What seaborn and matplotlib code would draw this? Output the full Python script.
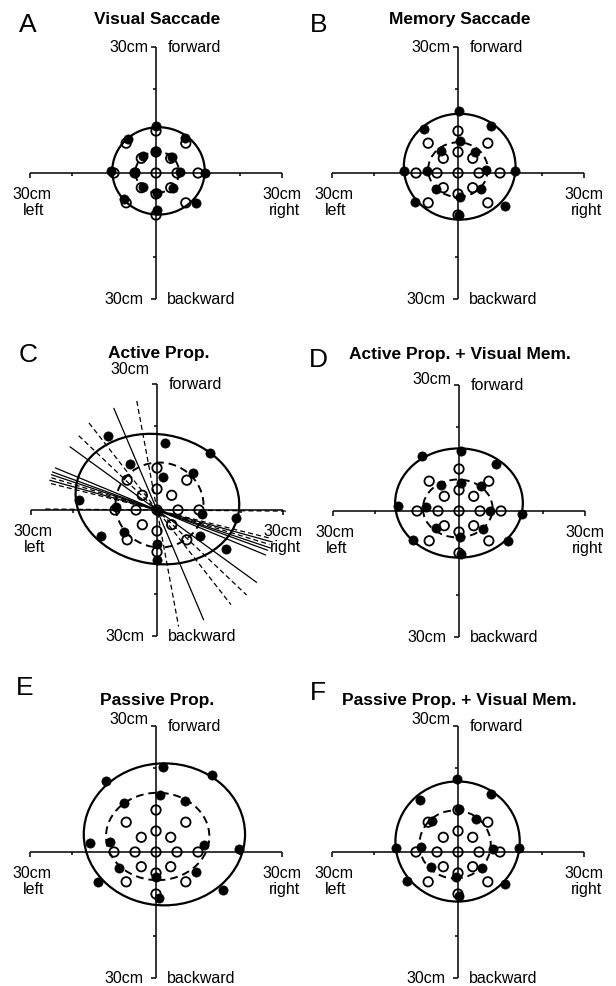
import numpy as np
import matplotlib
matplotlib.use('Agg')
import matplotlib.pyplot as plt
from matplotlib.patches import Ellipse
import seaborn as sns

sns.set_style('white')
plt.rcParams['font.family'] = ['Liberation Sans', 'DejaVu Sans']
plt.rcParams['text.color'] = 'black'

letters = ['A', 'B', 'C', 'D', 'E', 'F']
titles = ['Visual Saccade', 'Memory Saccade', 'Active Prop.',
          'Active Prop. + Visual Mem.', 'Passive Prop.',
          'Passive Prop. + Visual Mem.']

# target positions (cm), same in every panel
target_x = [0, 5, 3.5, 0, -3.5, -5, -3.5, 0, 3.5, 10, 7.1, 0, -7.1, -10, -7.1, 0, 7.1]
target_y = [0, 0, 3.5, 5, 3.5, 0, -3.5, -5, -3.5, 0, 7.1, 10, 7.1, 0, -7.1, -10, -7.1]

# end points for the 10 cm targets (cm)
a_outer_x = [0, -6.7, 6.9, -10.6, 11.7, -7.5, 9.5, 0.2]
a_outer_y = [11.3, 8.0, 8.4, 0.5, 0.1, -6.3, -7.2, -8.8]
b_outer_x = [0.2, -8.2, 7.8, -12.8, 13.5, -10.3, 11.3, 0.2]
b_outer_y = [14.8, 10.5, 11.3, 0.4, 0.4, -7.0, -7.9, -10.0]
c_outer_x = [-11.7, 1.8, 12.5, -18.5, 18.9, -13.3, 16.4, 0.0]
c_outer_y = [17.7, 16.0, 13.6, 2.5, -2.0, -6.3, -9.4, -11.8]
d_outer_x = [0.4, -8.8, 8.7, -14.5, 15.0, -10.9, 11.7, 0.4]
d_outer_y = [14.3, 13.1, 11.3, 1.2, -0.6, -6.9, -7.1, -10.2]
e_outer_x = [1.7, 13.3, -11.9, -15.6, 19.8, -13.7, 16.0, 0.6]
e_outer_y = [20.2, 18.3, 16.9, 2.2, 0.6, -7.1, -9.1, -11.0]
f_outer_x = [-0.2, -9.1, 7.8, -14.8, 14.5, -12.1, 11.3, 0.2]
f_outer_y = [17.3, 12.3, 13.7, 1.0, 1.0, -7.0, -7.5, -10.5]

# end points for the 5 cm targets (cm)
a_inner_x = [0, -3.2, 3.7, -5.0, 5.6, -3.2, 4.0, 0.2]
a_inner_y = [5.2, 4.0, 3.9, 0.3, 0.3, -3.3, -3.5, -4.8]
b_inner_x = [0.4, -4.0, 4.0, -7.4, 6.7, -5.3, 5.4, 0.4]
b_inner_y = [7.7, 5.2, 4.9, 0.4, 0.6, -3.8, -3.8, -5.6]
c_inner_x = [-6.5, 1.4, 8.5, -9.7, 10.7, -7.8, 10.3, 0.0, 0.2]
c_inner_y = [11.0, 7.8, 8.7, 0.6, -1.0, -5.3, -6.1, -8.1, -0.2]
d_inner_x = [0.4, -4.2, 5.3, -7.9, 7.3, -5.4, 5.6, 0.2]
d_inner_y = [6.7, 6.1, 6.0, 1.0, 0.0, -4.0, -4.2, -6.1]
e_inner_x = [1.0, -7.6, 6.9, -11.0, 11.5, -8.8, 9.5, -0.1]
e_inner_y = [13.5, 11.7, 12.1, 2.4, 1.6, -3.8, -4.8, -6.0]
f_inner_x = [0.2, -6.2, 4.4, -8.7, 8.3, -6.5, 5.6, -0.4]
f_inner_y = [10.2, 7.4, 7.9, 1.2, 0.8, -3.6, -3.8, -6.0]

# fitted ellipses: centre x, centre y, semi-axes, tilt (deg)
outer_cx = [0.6, 0.4, 0.1, 0.0, 2.0, -0.1]
outer_cy = [0.5, 1.5, 2.6, 1.9, 4.2, 2.5]
outer_a = [11.0, 13.3, 19.6, 15.2, 19.2, 14.8]
outer_b = [10.4, 12.6, 15.4, 13.0, 16.9, 14.3]
outer_tilt = [0, 0, -10, 0, 0, 0]
inner_cx = [0.3, 0.0, 0.6, -0.3, 0.4, -0.7]
inner_cy = [0.2, 0.8, 1.2, 0.6, 3.7, 1.8]
inner_a = [5.2, 7.1, 10.5, 8.3, 12.3, 8.5]
inner_b = [4.9, 6.5, 10.1, 6.9, 10.4, 8.1]
inner_tilt = [0, 0, -10, 0, 0, 0]

# panel C: axis lines through the origin (angle deg, length up-left, length down-right)
c_line_angle = [100.5, 113, 128, 136.5, 144, 157.5, 160, 161.5, 163, 164.5, 166, 179.5]
c_line_up = [26.4, 26.3, 26.3, 25.7, 25.6, 26.2, 26.5, 26.5, 26.3, 26.5, 26.0, 26.6]
c_line_down = [28.2, 28.4, 28.6, 29.4, 29.3, 28.0, 28.0, 28.5, 28.0, 28.5, 28.0, 31.0]
c_line_dashed = [True, False, True, True, False, False, False, False, True, False, True, True]

outer_x = [a_outer_x, b_outer_x, c_outer_x, d_outer_x, e_outer_x, f_outer_x]
outer_y = [a_outer_y, b_outer_y, c_outer_y, d_outer_y, e_outer_y, f_outer_y]
inner_x = [a_inner_x, b_inner_x, c_inner_x, d_inner_x, e_inner_x, f_inner_x]
inner_y = [a_inner_y, b_inner_y, c_inner_y, d_inner_y, e_inner_y, f_inner_y]

# layout: panel origin in pixels, label offsets
W, H = 616, 987
s = 4.2  # px per cm
panel_cx = [156, 458, 157, 459, 156, 458]
panel_cy = [174, 174, 511, 512, 853, 853]
top_lab_dy = [0, 0, 3.8, 1.5, 1.8, 1.8]
title_y = [36.7, 36.7, 37.6, 37.4, 36.4, 36.4]
letter_x = [-30.5, -33.3, -30.6, -33.6, -31.2, -33.3]
letter_y = [35.4, 35.5, 37.1, 36.1, 39.3, 38.1]

fig = plt.figure(figsize=(6.16, 9.87), dpi=100)
fs = 11.5
dash = (0, (4, 2.5))

for i in range(6):
    cx, cy = panel_cx[i], panel_cy[i]
    ax = fig.add_axes([(cx - 36 * s) / W, 1 - (cy + 34 * s) / H, 72 * s / W, 74 * s / H])
    ax.set_xlim(-36, 36)
    ax.set_ylim(-34, 40)
    ax.axis('off')

    # cross axes
    k = dict(color='black', lw=1.1, solid_capstyle='butt', zorder=2)
    ax.plot([-30, 30], [0, 0], **k)
    ax.plot([0, 0], [-30, 30], **k)
    ax.plot([-30, -30], [0, -1.3], **k)
    ax.plot([30, 30], [0, -1.3], **k)
    ax.plot([-1.3, 0], [30, 30], **k)
    ax.plot([-1.3, 0], [-30, -30], **k)
    for t in (-20, 20):
        ax.plot([t, t], [0, -0.7], **k)
        ax.plot([-0.7, 0], [t, t], **k)

    ax.text(-1.8, 30 + top_lab_dy[i], '30cm', ha='right', va='center', fontsize=fs)
    ax.text(2.7, 30, 'forward', ha='left', va='center', fontsize=fs)
    ax.text(-2.9, -30, '30cm', ha='right', va='center', fontsize=fs)
    ax.text(2.7, -30, 'backward', ha='left', va='center', fontsize=fs)
    ax.text(-29.5, -4.8, '30cm', ha='center', va='center', fontsize=fs)
    ax.text(-29.2, -8.8, 'left', ha='center', va='center', fontsize=fs)
    ax.text(30.0, -4.8, '30cm', ha='center', va='center', fontsize=fs)
    ax.text(30.5, -8.8, 'right', ha='center', va='center', fontsize=fs)

    ax.text(letter_x[i], letter_y[i], letters[i], ha='center', va='center', fontsize=19)
    ax.text(0.3, title_y[i], titles[i], ha='center', va='center', fontsize=12.5,
            fontweight='bold')

    # panel C principal axes
    if i == 2:
        for ang, up, dn, dsh in zip(c_line_angle, c_line_up, c_line_down, c_line_dashed):
            r = np.deg2rad(ang)
            ax.plot([up * np.cos(r), -dn * np.cos(r)], [up * np.sin(r), -dn * np.sin(r)],
                    color='black', lw=0.9, linestyle=dash if dsh else '-', zorder=3)

    ax.add_patch(Ellipse((outer_cx[i], outer_cy[i]), 2 * outer_a[i], 2 * outer_b[i],
                         angle=outer_tilt[i], fill=False, ec='black', lw=1.6, zorder=4))
    ax.add_patch(Ellipse((inner_cx[i], inner_cy[i]), 2 * inner_a[i], 2 * inner_b[i],
                         angle=inner_tilt[i], fill=False, ec='black', lw=1.4,
                         linestyle=dash, zorder=4))

    sns.scatterplot(x=target_x, y=target_y, ax=ax, s=46, marker='o',
                    facecolor='none', edgecolor='black', linewidth=1.3, zorder=5)
    sns.scatterplot(x=outer_x[i] + inner_x[i], y=outer_y[i] + inner_y[i], ax=ax, s=44,
                    marker='o', color='black', edgecolor='black', linewidth=0.5, zorder=6)

fig.savefig('out.png', dpi=100, facecolor='white')
